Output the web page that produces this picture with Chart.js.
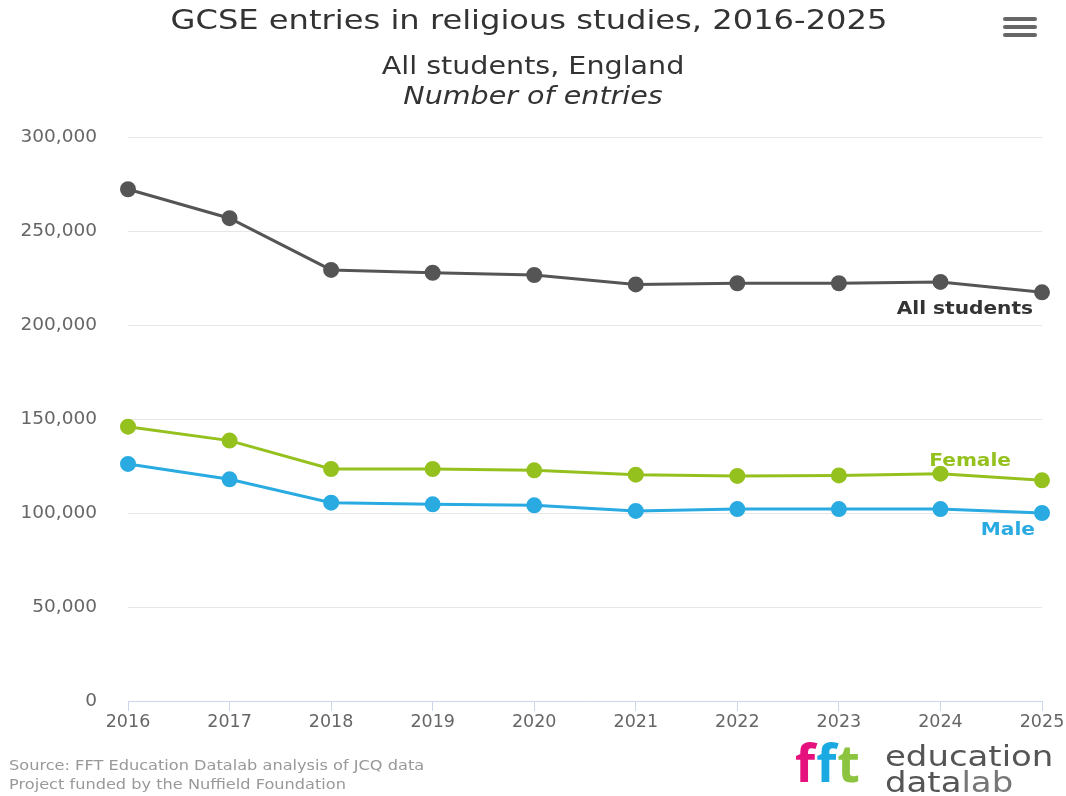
<!DOCTYPE html>
<html>
<head>
<meta charset="utf-8">
<script src="https://cdn.jsdelivr.net/npm/chart.js@4.4.1/dist/chart.umd.min.js"></script>
<style>
    body { margin: 0; background: #fff; font-family: "DejaVu Sans", sans-serif; }
    #wrap { position: relative; width: 1066px; height: 796px; overflow: hidden; }
    #chart { position: absolute; left: 0; top: 0; }
    .title { position: absolute; left: 0; width: 1066px; text-align: center; color: #333; transform-origin: 50% 50%; }
    #t1 { top: 4px; font-size: 27px; left: -4px; transform: scaleX(1.19); }
    #t2 { top: 52px; font-size: 24px; transform: scaleX(1.19); }
    #t3 { top: 82px; font-size: 24px; font-style: italic; transform: scaleX(1.19); }
    #menu { position: absolute; left: 1003px; top: 17px; width: 34px; }
    #menu div { height: 4px; background: #666; border-radius: 2px; margin-bottom: 4px; }
    .foot { position: absolute; left: 9px; font-size: 14.5px; color: #999; transform: scaleX(1.115); transform-origin: 0 50%; }
    #logo { position: absolute; left: 795px; top: 742px; width: 270px; height: 54px; }
    #fft { position: absolute; left: 0; top: -6px; font-size: 52px; font-weight: bold; letter-spacing: 1px; line-height: 1; font-family: "Open Sans", sans-serif; }
    #edu { position: absolute; left: 90px; top: 1px; font-size: 29px; color: #555; line-height: 26px; transform: scaleX(1.17); transform-origin: 0 50%; }
    #edu .lab { color: #777; }
</style>
</head>
<body>
<div id="wrap">
    <canvas id="chart" width="1066" height="796"></canvas>
    <div class="title" id="t1">GCSE entries in religious studies, 2016-2025</div>
    <div class="title" id="t2">All students, England</div>
    <div class="title" id="t3">Number of entries</div>
    <div id="menu"><div></div><div></div><div></div></div>
    <div class="foot" style="top:757px">Source: FFT Education Datalab analysis of JCQ data</div>
    <div class="foot" style="top:776px">Project funded by the Nuffield Foundation</div>
    <div id="logo">
        <div id="fft"><span style="color:#e5127d">f</span><span style="color:#1ba9e1">f</span><span style="color:#8cc43f">t</span></div>
        <div id="edu">education<br>data<span class="lab">lab</span></div>
    </div>
</div>
<script>
// Data
const years = ['2016', '2017', '2018', '2019', '2020', '2021', '2022', '2023', '2024', '2025'];
const allStudents = [272200, 256800, 229300, 227800, 226600, 221600, 222200, 222200, 222900, 217400];
const female = [145900, 138500, 123400, 123400, 122700, 120400, 119700, 120000, 120900, 117400];
const male = [126100, 117900, 105500, 104600, 104100, 101100, 102100, 102100, 102100, 100000];
const yTicks = [0, 50000, 100000, 150000, 200000, 250000, 300000];

const seriesNames = ['All students', 'Female', 'Male'];
const seriesColors = ['#555555', '#95c11f', '#29abe2'];
// label offsets relative to the last point (dx right edge, dy)
const labelOffsets = [[-9, 17], [-31, -19], [-7, 17]];

// Draws the series names next to the last point of each line
const endLabels = {
    id: 'endLabels',
    afterDatasetsDraw(chart) {
        const ctx = chart.ctx;
        const xs = chart.scales.x;
        const ys = chart.scales.y;
        ctx.save();
        ctx.font = 'bold 17.5px "DejaVu Sans", sans-serif';
        ctx.textAlign = 'right';
        ctx.textBaseline = 'middle';
        chart.data.datasets.forEach((ds, i) => {
            const last = ds.data.length - 1;
            const x = xs.getPixelForValue(last) + labelOffsets[i][0];
            const y = ys.getPixelForValue(ds.data[last]) + labelOffsets[i][1];
            ctx.fillStyle = i === 0 ? '#333333' : seriesColors[i];
            // stretch text a little sideways like the reference
            ctx.save();
            ctx.translate(x, y);
            ctx.scale(1.15, 1);
            ctx.fillText(ds.label, 0, 0);
            ctx.restore();
        });
        ctx.restore();
    }
};

new Chart(document.getElementById('chart'), {
    type: 'line',
    data: {
        labels: years,
        datasets: [allStudents, female, male].map((d, i) => ({
            label: seriesNames[i],
            data: d,
            borderColor: seriesColors[i],
            backgroundColor: seriesColors[i],
            borderWidth: 3,
            pointRadius: 6.5,
            pointHoverRadius: 6.5,
            tension: 0
        }))
    },
    options: {
        responsive: false,
        animation: false,
        layout: { padding: { top: 137, right: 24, bottom: 0, left: 0 } },
        plugins: {
            legend: { display: false },
            tooltip: { enabled: false }
        },
        scales: {
            x: {
                offset: false,
                grid: { drawOnChartArea: false, drawTicks: true, tickLength: 10, color: '#ccd6eb' },
                border: { color: '#ccd6eb', width: 1 },
                ticks: { color: '#666', font: { size: 17.5, family: '"DejaVu Sans", sans-serif' }, padding: 1, maxRotation: 0 },
                afterFit: (axis) => { axis.height = 95; }
            },
            y: {
                min: 0,
                max: 300000,
                afterBuildTicks: (axis) => { axis.ticks = yTicks.map(v => ({ value: v })); },
                grid: { color: '#e6e6e6', drawTicks: false },
                border: { display: false },
                ticks: {
                    color: '#666',
                    font: { size: 18.5, family: '"DejaVu Sans", sans-serif' },
                    padding: 31,
                    callback: (v) => v.toLocaleString('en-US')
                },
                afterFit: (axis) => { axis.width = 128; }
            }
        }
    },
    plugins: [endLabels]
});
</script>
</body>
</html>
